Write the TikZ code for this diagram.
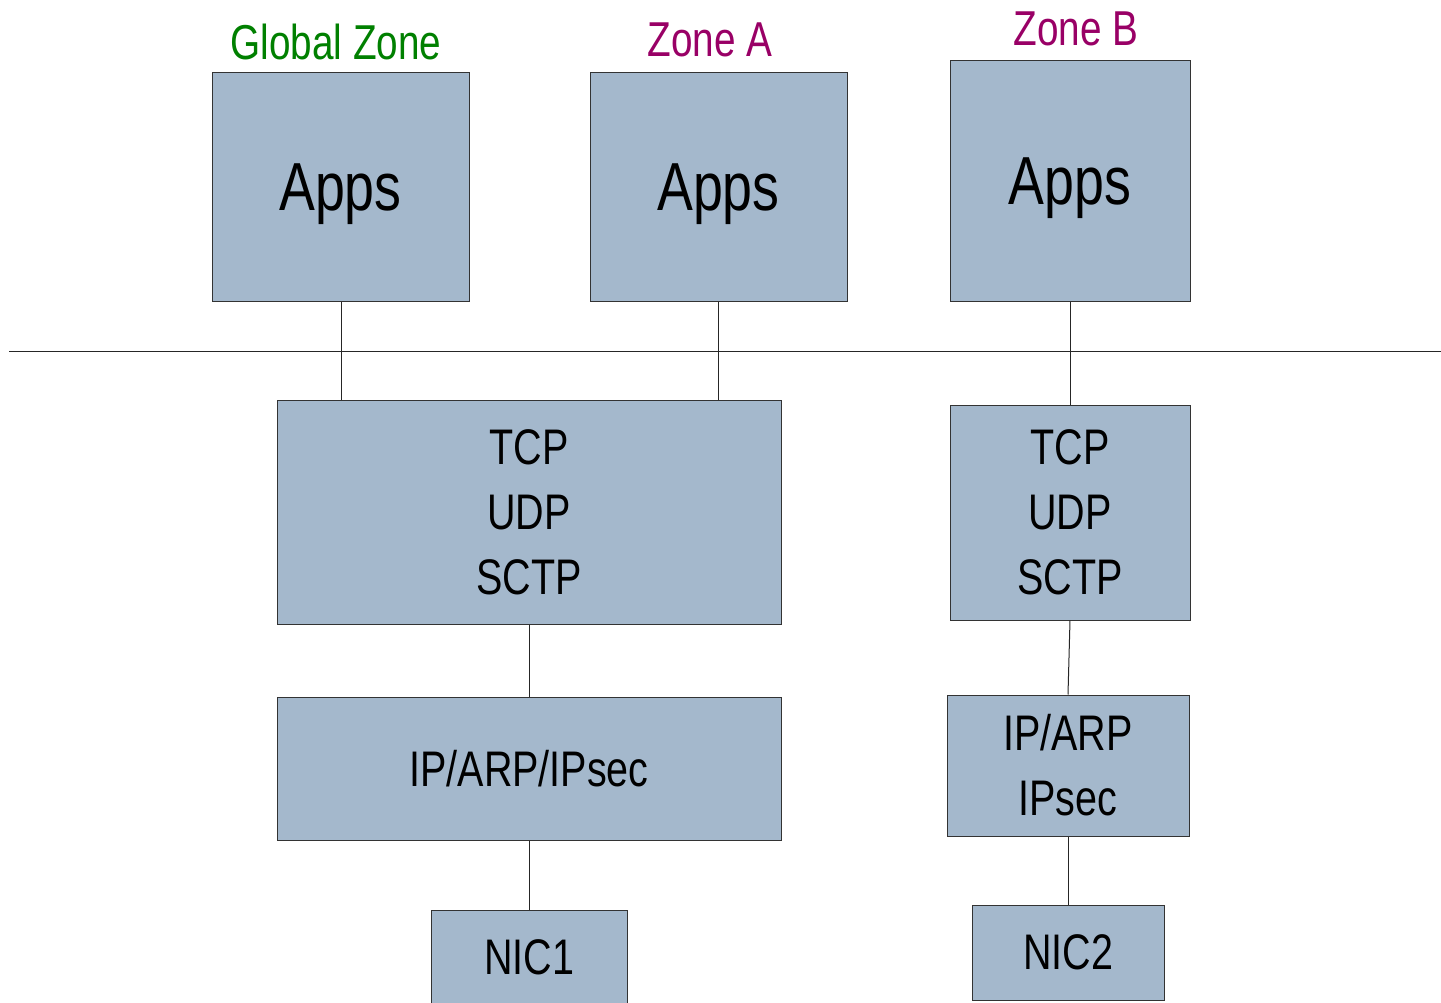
\documentclass[tikz,border=0pt]{standalone}
\usepackage{fontspec}
\setmainfont{Liberation Sans}[FakeStretch=0.79]
\definecolor{boxfill}{HTML}{A4B8CC}
\definecolor{boxline}{HTML}{333333}
\definecolor{zgreen}{HTML}{008000}
\definecolor{zpurple}{HTML}{990066}
\tikzset{
  layerbox/.style={draw=boxline, fill=boxfill, line width=1pt, inner sep=0pt, align=center},
  appsfont/.style={font=\fontsize{68}{80}\selectfont, text depth=0pt},
  stackfont/.style={font=\fontsize{50}{65}\selectfont},
  zonelabel/.style={font=\fontsize{49}{56}\selectfont, anchor=base, inner sep=0pt},
  wire/.style={draw=black!85, line width=1pt}
}
\begin{document}
\begin{tikzpicture}[x=1pt,y=-1pt]
\clip (0,0) rectangle (1441,1003);
\fill[white] (0,0) rectangle (1441,1003);
% Zone labels
\node[zonelabel, text=zgreen] (lg) at (336,60) {Global Zone};
\node[zonelabel, text=zpurple] (la) at (710,57) {Zone A};
\node[zonelabel, text=zpurple] (lb) at (1076,46) {Zone B};
% Apps boxes
\node[layerbox, appsfont, minimum width=257pt, minimum height=228pt] (ga) at (340.5,187) {Apps};
\node[layerbox, appsfont, minimum width=257pt, minimum height=228pt] (aa) at (718.5,187) {Apps};
\node[layerbox, appsfont, minimum width=240pt, minimum height=240pt] (ba) at (1070,181) {Apps};
% separator line
\coordinate (hl) at (9,351);
\coordinate (hr) at (1441,351);
\draw[wire] (hl) -- (hr);
% Transport boxes
\node[layerbox, stackfont, minimum width=504pt, minimum height=224pt] (t1) at (529,512) {TCP\\UDP\\SCTP};
\node[layerbox, stackfont, minimum width=240pt, minimum height=215pt] (t2) at (1070,512.5) {TCP\\UDP\\SCTP};
% IP boxes
\node[layerbox, stackfont, minimum width=504pt, minimum height=143pt] (i1) at (529,768.5) {IP/ARP/IPsec};
\node[layerbox, stackfont, minimum width=242pt, minimum height=141pt] (i2) at (1068,765.5) {IP/ARP\\IPsec};
% NIC boxes
\node[layerbox, minimum width=196pt, minimum height=106pt] (n1) at (529,963) {};
\node[font=\fontsize{50}{65}\selectfont, text depth=0pt, inner sep=0pt] (n1t) at (529,957) {NIC1};
\node[layerbox, stackfont, minimum width=192pt, minimum height=95pt, text depth=0pt] (n2) at (1068,952.5) {NIC2};
% connectors
\draw[wire] (ga.south -| 341,0) -- (t1.north -| 341,0);
\draw[wire] (aa.south) -- (aa.south |- t1.north);
\draw[wire] (ba.south) -- (ba.south |- t2.north);
\draw[wire] (t1.south) -- (i1.north);
\draw[wire] (t2.south) -- (i2.north);
\draw[wire] (i1.south) -- (n1.north);
\draw[wire] (i2.south) -- (n2.north);
\end{tikzpicture}
\end{document}
